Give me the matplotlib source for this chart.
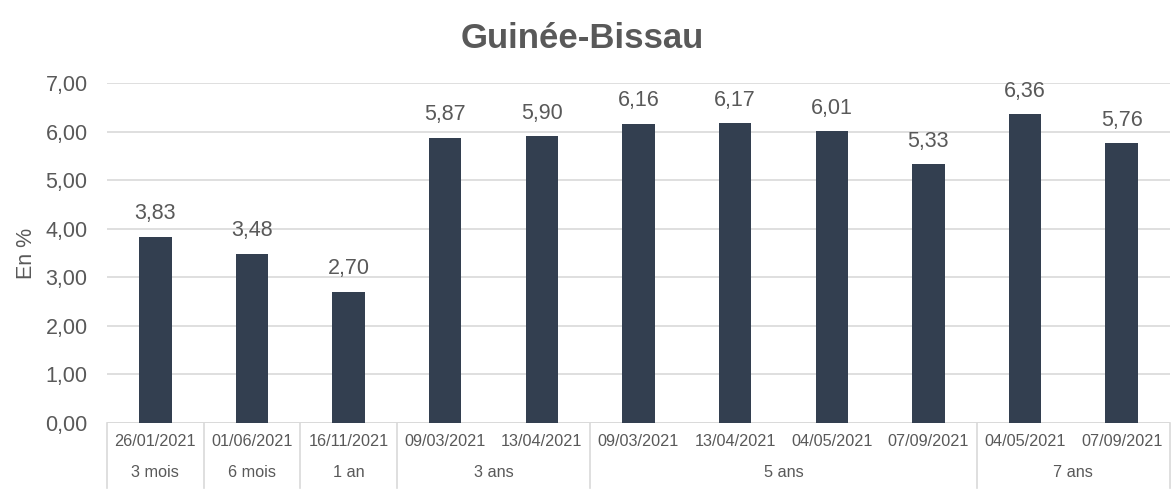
import matplotlib
matplotlib.use('Agg')
import matplotlib.pyplot as plt
from matplotlib.lines import Line2D
import matplotlib.transforms as mtransforms
import numpy as np

plt.rcParams['font.family'] = ['Liberation Sans', 'DejaVu Sans']

dates = ['26/01/2021', '01/06/2021', '16/11/2021', '09/03/2021', '13/04/2021',
         '09/03/2021', '13/04/2021', '04/05/2021', '07/09/2021',
         '04/05/2021', '07/09/2021']
values = [3.83, 3.48, 2.70, 5.87, 5.90, 6.16, 6.17, 6.01, 5.33, 6.36, 5.76]
groups = ['3 mois', '6 mois', '1 an', '3 ans', '5 ans', '7 ans']
group_sizes = [1, 1, 1, 2, 4, 2]

BAR = '#333F50'
TXT = '#595959'
GRID = '#D9D9D9'

fig = plt.figure(figsize=(11.74, 4.95), dpi=100)
ax = fig.add_axes([107/1174, 1-423/495, (1170-107)/1174, 340/495])

x = np.arange(len(values))
ax.bar(x, values, width=0.335, color=BAR, zorder=3)
for xi, v in zip(x, values):
    ax.annotate(('%.2f' % v).replace('.', ','), (xi, v), xytext=(0, 9),
                textcoords='offset points', ha='center', va='bottom',
                fontsize=15.5, color=TXT)

ax.set_xlim(-0.5, len(values) - 0.5)
ax.set_ylim(0, 7)
ax.set_yticks(np.arange(0, 8, 1))
ax.set_yticklabels([('%.2f' % t).replace('.', ',') for t in np.arange(0, 8, 1)],
                   fontsize=15.5, color=TXT)
ax.tick_params(axis='y', length=0, pad=14)
ax.set_xticks([])
ax.grid(axis='y', color=GRID, linewidth=1.2, zorder=0)
for s in ax.spines.values():
    s.set_visible(False)
ax.axhline(0, color=GRID, linewidth=1.2, zorder=2)

ax.set_ylabel('En %', fontsize=15.5, color=TXT, labelpad=6)
fig.text(582/1174, 1-38/495, 'Guinée-Bissau', fontsize=25, fontweight='bold',
         color=TXT, ha='center', va='center')

trans = mtransforms.blended_transform_factory(ax.transData, ax.transAxes)
for xi, d in zip(x, dates):
    ax.text(xi, -0.053, d, transform=trans, ha='center', va='center',
            fontsize=11.7, color=TXT)

start = 0
bounds = [-0.5]
for g, n in zip(groups, group_sizes):
    mid = start + (n - 1) / 2
    ax.text(mid, -0.147, g, transform=trans, ha='center', va='center',
            fontsize=11.7, color=TXT)
    start += n
    bounds.append(start - 0.5)
for b in bounds:
    ax.add_line(Line2D([b, b], [0, -0.191], transform=trans, color=GRID,
                       linewidth=1.2, clip_on=False))

fig.savefig('out.png', dpi=100)
